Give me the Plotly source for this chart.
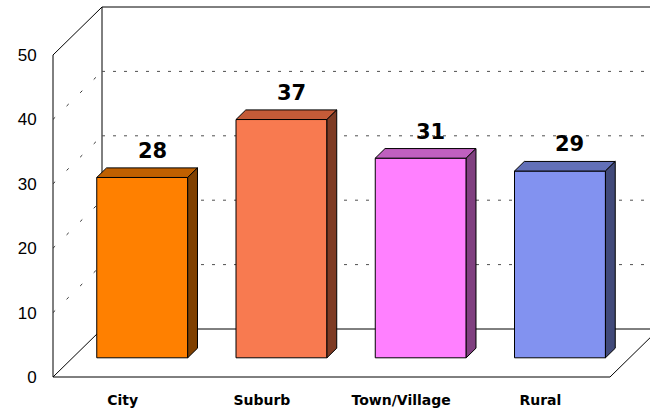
import plotly.graph_objects as go

# data
categories = ['City', 'Suburb', 'Town/Village', 'Rural']
values = [28, 37, 31, 29]
y_ticks = [0, 10, 20, 30, 40, 50]

front_colors = ['#FF8000', '#F87A50', '#FF80FF', '#8292F0']
top_colors = ['#C06000', '#C45B38', '#C060C0', '#6270B8']
side_colors = ['#804000', '#7E3B24', '#804080', '#414A7A']

# fake 3d geometry (data units)
PX_CAT = 139.25          # px per category
PX_UNIT = 6.44           # px per y unit
DX = 49 / PX_CAT         # wall depth in x
DY = 48 / PX_UNIT        # wall depth in y
Z0, Z1 = 0.4, 0.6        # bar depth position
BAR_W = 0.653
PAD_X = 2 / PX_CAT
PAD_Y = 2 / PX_UNIT

xs = list(range(len(categories)))
base = Z0 * DY
shift = Z0 * DX
d_x = (Z1 - Z0) * DX
d_y = (Z1 - Z0) * DY

fig = go.Figure()
fig.add_trace(go.Bar(
    x=xs, y=values, base=base, width=BAR_W, offset=-BAR_W / 2 + shift,
    marker=dict(color=front_colors, line=dict(color='black', width=1)),
    hoverinfo='skip', showlegend=False))

shapes = []
for i, v in enumerate(values):
    x0 = i - BAR_W / 2 + shift
    x1 = i + BAR_W / 2 + shift
    top = base + v
    shapes.append(dict(type='path', layer='above',
                       path=f'M{x0},{top} L{x1},{top} L{x1 + d_x},{top + d_y} L{x0 + d_x},{top + d_y} Z',
                       fillcolor=top_colors[i], line=dict(color='black', width=1)))
    shapes.append(dict(type='path', layer='above',
                       path=f'M{x1},{base} L{x1},{top} L{x1 + d_x},{top + d_y} L{x1 + d_x},{base + d_y} Z',
                       fillcolor=side_colors[i], line=dict(color='black', width=1)))

left = -0.5
right = len(categories) - 0.5
ymax = max(y_ticks)


def seg(xa, ya, xb, yb, dash='solid', color='black', layer='below'):
    return dict(type='line', x0=xa, y0=ya, x1=xb, y1=yb, layer=layer,
                line=dict(color=color, width=1, dash=dash))


# walls and floor
frame = [
    seg(left, 0, left, ymax),
    seg(left, 0, right, 0),
    seg(right, 0, right + DX, DY),
    seg(left, 0, left + DX, DY),
    seg(left, ymax, left + DX, ymax + DY),
    seg(left + DX, DY, left + DX, ymax + DY),
    seg(left + DX, DY, right + DX, DY),
    seg(left + DX, ymax + DY, right + DX, ymax + DY),
]
for t in y_ticks[1:-1]:
    frame.append(seg(left + DX, t + DY, right + DX, t + DY, dash='3px,8px', color='#505050'))
    frame.append(seg(left, t, left + DX, t + DY, dash='3px,16px', color='#303030'))

fig.update_layout(shapes=frame + shapes)

for i, v in enumerate(values):
    fig.add_annotation(x=i + shift + d_x, y=base + v + d_y, text=f'<b>{v}</b>',
                       showarrow=False, yanchor='bottom', yshift=3,
                       font=dict(family='DejaVu Sans', size=21, color='black'))

x_right = left + (650 - 51) / PX_CAT - PAD_X
fig.update_xaxes(range=[left - PAD_X, x_right], tickvals=xs,
                 ticktext=[f'<b>{c}</b>' for c in categories],
                 showgrid=False, zeroline=False, showline=False,
                 ticks='outside', ticklen=8, tickcolor='rgba(0,0,0,0)',
                 tickfont=dict(family='DejaVu Sans', size=14, color='black'))
fig.update_yaxes(range=[-PAD_Y, ymax + DY + PAD_Y], tickvals=y_ticks,
                 showgrid=False, zeroline=False, showline=False,
                 ticks='outside', ticklen=10, tickcolor='rgba(0,0,0,0)',
                 tickfont=dict(family='Liberation Sans', size=17, color='black'))

fig.update_layout(width=650, height=408, margin=dict(l=51, r=0, t=5, b=29),
                  plot_bgcolor='white', paper_bgcolor='white')

# page body has a default margin, drop it so the chart sits at 0,0
fig.write_html('out.html', config={'displayModeBar': False},
               post_script="document.body.style.margin='0';")
